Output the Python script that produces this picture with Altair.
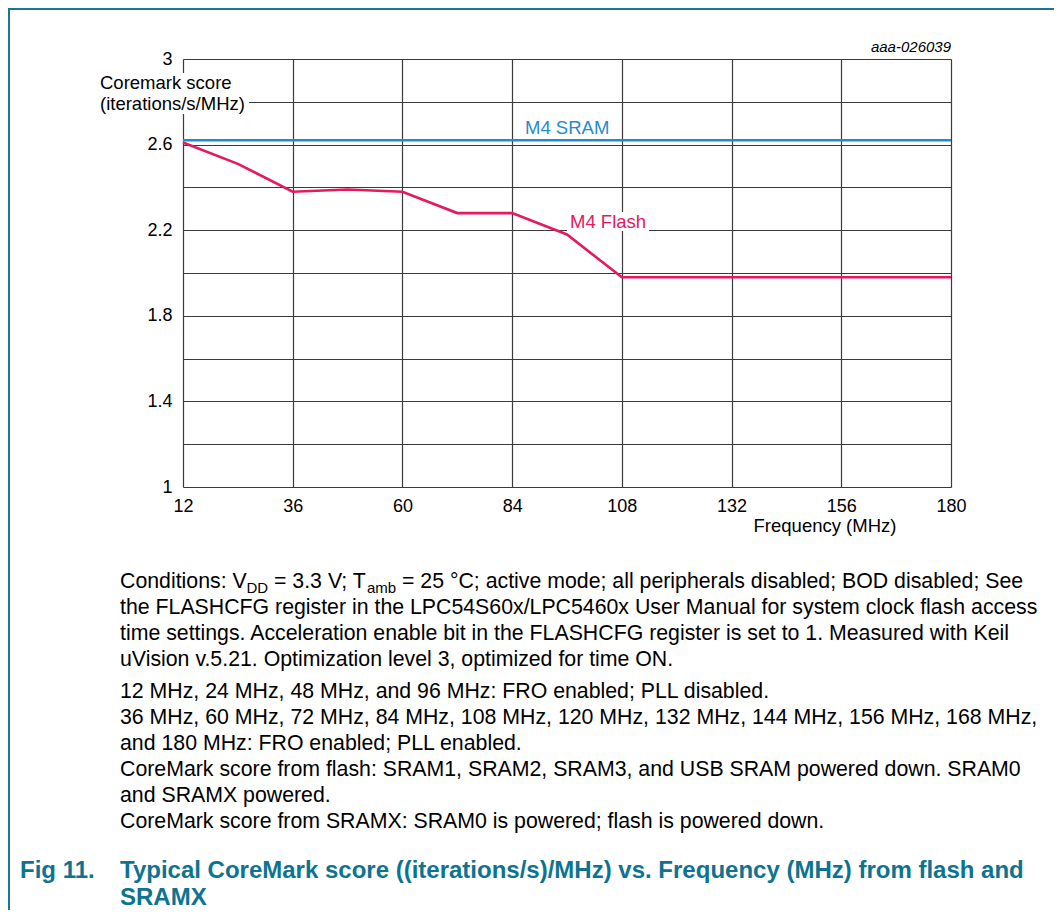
import altair as alt
import pandas as pd

# ---------------- data ----------------
freq_mhz = [12, 24, 36, 48, 60, 72, 84, 96, 108, 120, 132, 144, 156, 168, 180]
m4_flash = [2.61, 2.51, 2.38, 2.39, 2.38, 2.28, 2.28, 2.18, 1.98, 1.98, 1.98, 1.98, 1.98, 1.98, 1.98]
m4_sram = [2.62, 2.62, 2.62, 2.62, 2.62, 2.62, 2.62, 2.62, 2.62, 2.62, 2.62, 2.62, 2.62, 2.62, 2.62]
series_names = ["M4 Flash", "M4 SRAM"]
series_colors = ["#e5195e", "#1f8ccb"]

x_ticks = [12, 36, 60, 84, 108, 132, 156, 180]
y_grid = [1, 1.2, 1.4, 1.6, 1.8, 2, 2.2, 2.4, 2.6, 2.8, 3]
y_labels_x10 = [10, 14, 18, 22, 26, 30]

FONT = "Liberation Sans"
TEAL = "#167893"
TITLE_COL = "#0e7390"

rows = []
for f, v in zip(freq_mhz, m4_flash):
    rows.append({"freq": f, "score": v, "series": series_names[0]})
for f, v in zip(freq_mhz, m4_sram):
    rows.append({"freq": f, "score": v, "series": series_names[1]})
df = pd.DataFrame(rows)

W, H = 768, 428
PAD_L, PAD_T = 175, 51
TOTAL_W, TOTAL_H = 1046, 902

one = pd.DataFrame({"k": [0]})

x_enc = alt.X(
    "freq:Q",
    scale=alt.Scale(domain=[12, 180], nice=False, zero=False),
    axis=alt.Axis(
        values=x_ticks, title=None, grid=True, ticks=False, domain=False,
        labelFontSize=18, labelFont=FONT, labelColor="#000", labelPadding=10,
        labelFlush=False, labelOverlap=False,
        gridColor="#3a3a3a", gridWidth=1.2,
    ),
)
y_enc = alt.Y(
    "score:Q",
    scale=alt.Scale(domain=[1, 3], nice=False, zero=False),
    axis=alt.Axis(
        values=y_grid, title=None, grid=True, ticks=False, domain=False,
        format=".1~f",
        labelExpr="indexof([" + ",".join(str(v) for v in y_labels_x10) + "], round(datum.value*10)) >= 0 ? datum.label : ''",
        labelFontSize=18, labelFont=FONT, labelColor="#000", labelPadding=11,
        labelOverlap=False, labelBaseline="middle",
        gridColor="#3a3a3a", gridWidth=1.2,
    ),
)


def box(x1, y1, x2, y2):
    return alt.Chart(one).mark_rect(color="white").encode(
        x=alt.value(x1), x2=alt.value(x2), y=alt.value(y1), y2=alt.value(y2)
    )


def txt(s, x, y, size=18.5, color="#000", weight="normal", style="normal", align="left"):
    return alt.Chart(one).mark_text(
        text=s, font=FONT, fontSize=size, color=color, fontWeight=weight,
        fontStyle=style, align=align, baseline="middle",
    ).encode(x=alt.value(x), y=alt.value(y))


lines = alt.Chart(df).mark_line(strokeWidth=2.6).encode(
    x=x_enc,
    y=y_enc,
    color=alt.Color("series:N", scale=alt.Scale(domain=series_names, range=series_colors), legend=None),
    detail="series:N",
)

layers = [
    box(-84, 14, 66, 55),           # behind y title
    box(384, 153, 466, 172),        # behind M4 Flash label
    lines,
    txt("Coremark score", -83, 24),
    txt("(iterations/s/MHz)", -83, 45),
    txt("M4 SRAM", 342, 69, color=series_colors[1]),
    txt("M4 Flash", 387, 163, color=series_colors[0]),
    txt("aaa-026039", 768, -12, size=15, style="italic", align="right"),
    txt("Frequency (MHz)", 642, 467, align="center"),
]

# frame (left and top teal lines)
layers.append(alt.Chart(one).mark_rule(color=TEAL, strokeWidth=2).encode(
    x=alt.value(-174), y=alt.value(-51), y2=alt.value(860)))
layers.append(alt.Chart(one).mark_rule(color=TEAL, strokeWidth=2).encode(
    x=alt.value(-175), x2=alt.value(880), y=alt.value(-50)))

# conditions text (with subscripts)
BODY = 21.3
SUB = 15
BX = -63
L1 = 582 - 59
seg_x = [BX, BX + 126.5, BX + 154, BX + 247, BX + 282]
layers += [
    txt("Conditions: V", seg_x[0], L1, size=BODY),
    txt("DD", seg_x[1], L1 + 5.5, size=SUB),
    txt("= 3.3 V; T", seg_x[2], L1, size=BODY),
    txt("amb", seg_x[3], L1 + 5.5, size=SUB),
    txt("= 25 °C; active mode; all peripherals disabled; BOD disabled; See", seg_x[4], L1, size=BODY),
]
body_lines = [
    ("the FLASHCFG register in the LPC54S60x/LPC5460x User Manual for system clock flash access", 608),
    ("time settings. Acceleration enable bit in the FLASHCFG register is set to 1. Measured with Keil", 634),
    ("uVision v.5.21. Optimization level 3, optimized for time ON.", 660),
    ("12 MHz, 24 MHz, 48 MHz, and 96 MHz: FRO enabled; PLL disabled.", 692),
    ("36 MHz, 60 MHz, 72 MHz, 84 MHz, 108 MHz, 120 MHz, 132 MHz, 144 MHz, 156 MHz, 168 MHz,", 718),
    ("and 180 MHz: FRO enabled; PLL enabled.", 744),
    ("CoreMark score from flash: SRAM1, SRAM2, SRAM3, and USB SRAM powered down. SRAM0", 770),
    ("and SRAMX powered.", 796),
    ("CoreMark score from SRAMX: SRAM0 is powered; flash is powered down.", 822),
]
for s, yy in body_lines:
    layers.append(txt(s, BX, yy - 59, size=BODY))

# figure caption
CAP = 24
layers += [
    txt("Fig 11.", -163, 871 - 59, size=CAP, color=TITLE_COL, weight="bold"),
    txt("Typical CoreMark score ((iterations/s)/MHz) vs. Frequency (MHz) from flash and", BX, 871 - 59,
        size=CAP, color=TITLE_COL, weight="bold"),
    txt("SRAMX", BX, 898 - 59, size=CAP, color=TITLE_COL, weight="bold"),
]

chart = alt.layer(*layers).properties(
    width=W, height=H,
    autosize=alt.AutoSizeParams(type="none"),
    padding={"left": PAD_L, "top": PAD_T, "right": TOTAL_W - PAD_L - W, "bottom": TOTAL_H - PAD_T - H},
).configure_view(strokeWidth=0).configure(background="white")

chart.save("out.html", embed_options={"renderer": "svg", "actions": False})
